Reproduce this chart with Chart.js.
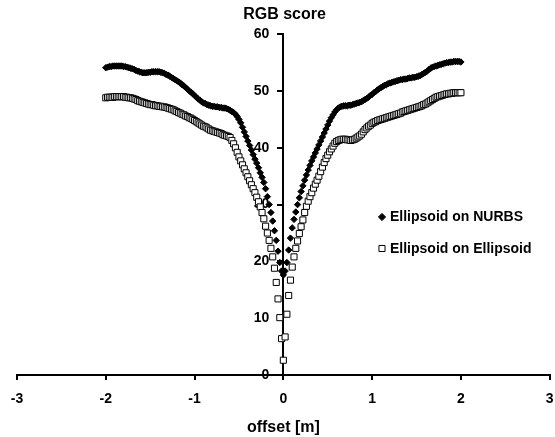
<!DOCTYPE html>
<html>
<head>
<meta charset="utf-8">
<script src="https://cdn.jsdelivr.net/npm/chart.js@4/dist/chart.umd.min.js"></script>
<style>
  html, body { margin: 0; padding: 0; background: #ffffff; }
  #wrap { position: relative; width: 555px; height: 437px; }
</style>
</head>
<body>
<div id="wrap"><canvas id="c" width="555" height="437"></canvas></div>
<script>
// offset [m] sample positions
const offsets = [
  -2.00,-1.98,-1.96,-1.94,-1.92,-1.90,-1.88,-1.86,-1.84,-1.82,
  -1.80,-1.78,-1.76,-1.74,-1.72,-1.70,-1.68,-1.66,-1.64,-1.62,
  -1.60,-1.58,-1.56,-1.54,-1.52,-1.50,-1.48,-1.46,-1.44,-1.42,
  -1.40,-1.38,-1.36,-1.34,-1.32,-1.30,-1.28,-1.26,-1.24,-1.22,
  -1.20,-1.18,-1.16,-1.14,-1.12,-1.10,-1.08,-1.06,-1.04,-1.02,
  -1.00,-0.98,-0.96,-0.94,-0.92,-0.90,-0.88,-0.86,-0.84,-0.82,
  -0.80,-0.78,-0.76,-0.74,-0.72,-0.70,-0.68,-0.66,-0.64,-0.62,
  -0.60,-0.58,-0.56,-0.54,-0.52,-0.50,-0.48,-0.46,-0.44,-0.42,
  -0.40,-0.38,-0.36,-0.34,-0.32,-0.30,-0.28,-0.26,-0.24,-0.22,
  -0.20,-0.18,-0.16,-0.14,-0.12,-0.10,-0.08,-0.06,-0.04,-0.02,
  0.00,
  0.02,0.04,0.06,0.08,0.10,0.12,0.14,0.16,0.18,0.20,
  0.22,0.24,0.26,0.28,0.30,0.32,0.34,0.36,0.38,0.40,
  0.42,0.44,0.46,0.48,0.50,0.52,0.54,0.56,0.58,0.60,
  0.62,0.64,0.66,0.68,0.70,0.72,0.74,0.76,0.78,0.80,
  0.82,0.84,0.86,0.88,0.90,0.92,0.94,0.96,0.98,1.00,
  1.02,1.04,1.06,1.08,1.10,1.12,1.14,1.16,1.18,1.20,
  1.22,1.24,1.26,1.28,1.30,1.32,1.34,1.36,1.38,1.40,
  1.42,1.44,1.46,1.48,1.50,1.52,1.54,1.56,1.58,1.60,
  1.62,1.64,1.66,1.68,1.70,1.72,1.74,1.76,1.78,1.80,
  1.82,1.84,1.86,1.88,1.90,1.92,1.94,1.96,1.98,2.00
];

// RGB score, Ellipsoid on NURBS
const nurbsScores = [
  54.1,54.2,54.3,54.3,54.4,54.4,54.4,54.4,54.4,54.4,
  54.3,54.3,54.2,54.1,54.0,53.9,53.8,53.6,53.5,53.4,
  53.3,53.2,53.2,53.2,53.3,53.3,53.4,53.4,53.4,53.4,
  53.4,53.3,53.2,53.1,52.9,52.8,52.6,52.4,52.2,52.0,
  51.8,51.6,51.4,51.1,50.9,50.6,50.3,50.0,49.8,49.5,
  49.2,48.9,48.6,48.4,48.1,47.9,47.8,47.6,47.5,47.4,
  47.3,47.3,47.2,47.2,47.1,47.1,47.0,47.0,46.9,46.8,
  46.6,46.4,46.2,45.9,45.5,45.0,44.4,43.6,42.8,42.0,
  41.2,40.4,39.6,38.8,38.0,37.3,36.5,35.6,34.8,33.9,
  32.8,31.4,30.0,28.6,27.1,25.4,23.7,21.8,19.8,18.3,
  17.6,
  18.3,19.8,22.0,24.1,25.9,27.4,28.7,30.0,31.2,32.3,
  33.3,34.3,35.2,36.1,36.9,37.7,38.4,39.1,39.8,40.5,
  41.2,41.9,42.6,43.3,44.0,44.7,45.3,45.8,46.3,46.7,
  47.0,47.2,47.3,47.4,47.4,47.4,47.5,47.5,47.6,47.7,
  47.8,47.9,48.0,48.1,48.3,48.5,48.7,48.9,49.2,49.4,
  49.7,49.9,50.2,50.4,50.6,50.8,51.0,51.1,51.3,51.4,
  51.5,51.6,51.7,51.8,51.9,52.0,52.0,52.1,52.1,52.2,
  52.3,52.3,52.4,52.4,52.5,52.6,52.7,52.9,53.1,53.3,
  53.5,53.8,54.0,54.2,54.3,54.4,54.5,54.6,54.7,54.8,
  54.9,55.0,55.0,55.1,55.1,55.2,55.2,55.2,55.2,55.1
];

// RGB score, Ellipsoid on Ellipsoid
const ellipsoidScores = [
  48.8,48.9,48.9,48.9,48.9,49.0,49.0,49.0,49.0,49.0,
  49.0,48.9,48.9,48.8,48.8,48.7,48.6,48.5,48.3,48.2,
  48.1,48.0,47.9,47.8,47.7,47.6,47.6,47.5,47.4,47.4,
  47.3,47.3,47.2,47.2,47.1,47.0,46.9,46.8,46.7,46.5,
  46.4,46.2,46.1,45.9,45.8,45.6,45.5,45.3,45.2,45.0,
  44.8,44.6,44.4,44.2,44.0,43.8,43.7,43.5,43.3,43.1,
  43.0,42.9,42.8,42.7,42.6,42.5,42.3,42.2,42.1,42.0,
  41.8,41.3,40.7,40.0,39.2,38.4,37.7,37.0,36.3,35.6,
  34.9,34.2,33.5,32.8,32.1,31.3,30.5,29.6,28.6,27.5,
  26.2,25.0,23.7,22.3,20.8,18.8,16.3,13.4,10.1,6.4,
  2.6,
  6.7,10.7,14.0,16.7,19.0,20.8,22.3,23.6,24.9,26.1,
  27.3,28.6,29.7,30.6,31.4,32.1,32.9,33.6,34.3,35.0,
  35.8,36.6,37.4,38.1,38.7,39.3,39.8,40.3,40.8,41.1,
  41.3,41.4,41.5,41.5,41.5,41.4,41.4,41.3,41.4,41.5,
  41.7,41.9,42.1,42.4,42.8,43.2,43.5,43.8,44.0,44.3,
  44.5,44.6,44.8,44.9,45.0,45.1,45.2,45.3,45.4,45.5,
  45.6,45.7,45.8,45.9,46.0,46.1,46.3,46.4,46.5,46.6,
  46.7,46.8,46.9,47.0,47.1,47.2,47.3,47.4,47.6,47.7,
  47.9,48.1,48.3,48.5,48.7,48.9,49.0,49.1,49.2,49.3,
  49.4,49.5,49.5,49.6,49.6,49.7,49.7,49.7,49.7,49.7
];

const seriesNames = ['Ellipsoid on NURBS', 'Ellipsoid on Ellipsoid'];
const xTicks = [-3, -2, -1, 0, 1, 2, 3];
const yTicks = [0, 10, 20, 30, 40, 50, 60];

const FONT = "'Liberation Sans', Arial, Helvetica, sans-serif";

const toPoints = (ys) => offsets.map((x, i) => ({ x: x, y: ys[i] }));

const legendPlugin = {
  id: 'customLegend',
  afterDraw(chart, args, opts) {
    const ctx = chart.ctx;
    ctx.save();
    chart.data.datasets.forEach((ds, i) => {
      const mx = opts.x, my = opts.y + i * opts.gap;
      ctx.fillStyle = ds.backgroundColor;
      ctx.strokeStyle = ds.borderColor;
      ctx.lineWidth = ds.borderWidth;
      ctx.beginPath();
      if (ds.pointStyle === 'rectRot') {
        const r = opts.markerRadius[i];
        ctx.moveTo(mx, my - r); ctx.lineTo(mx + r, my); ctx.lineTo(mx, my + r); ctx.lineTo(mx - r, my); ctx.closePath();
      } else {
        const s = opts.markerRadius[i] * Math.SQRT1_2;
        ctx.rect(mx - s, my - s, 2 * s, 2 * s);
      }
      ctx.fill(); ctx.stroke();
      ctx.fillStyle = '#000';
      ctx.font = opts.font;
      ctx.textAlign = 'left';
      ctx.textBaseline = 'middle';
      ctx.fillText(ds.label, mx + opts.textGap, my + 0.5);
    });
    ctx.restore();
  }
};

new Chart(document.getElementById('c'), {
  type: 'scatter',
  data: {
    datasets: [
      {
        label: seriesNames[0],
        data: toPoints(nurbsScores),
        pointStyle: 'rectRot',
        pointRadius: 3.2,
        backgroundColor: '#000000',
        borderColor: '#000000',
        borderWidth: 1
      },
      {
        label: seriesNames[1],
        data: toPoints(ellipsoidScores),
        pointStyle: 'rect',
        pointRadius: 4.3,
        backgroundColor: '#ffffff',
        borderColor: '#000000',
        borderWidth: 1
      }
    ]
  },
  options: {
    responsive: false,
    animation: false,
    events: [],
    layout: { padding: { left: 17, right: 3, top: 0, bottom: 0 } },
    plugins: {
      legend: { display: false },
      tooltip: { enabled: false },
      title: {
        display: true,
        text: 'RGB score',
        color: '#000',
        font: { family: FONT, size: 16, weight: 'bold' },
        padding: { top: 5, bottom: 10 }
      },
      customLegend: {
        x: 382, y: 217, gap: 31.5, textGap: 8,
        markerRadius: [3.6, 4.3],
        font: "bold 14px " + FONT
      }
    },
    scales: {
      x: {
        type: 'linear',
        min: -3, max: 3,
        afterBuildTicks: (s) => { s.ticks = xTicks.map(v => ({ value: v })); },
        afterFit: (s) => { s.paddingLeft = 0; s.paddingRight = 0; },
        border: { display: true, color: '#000', width: 2 },
        grid: { drawOnChartArea: false, drawTicks: true, tickLength: 5, color: '#000', lineWidth: 2 },
        ticks: { color: '#000', font: { family: FONT, size: 14, weight: 'bold' }, padding: 11, maxRotation: 0 },
        title: {
          display: true, text: 'offset [m]', color: '#000',
          font: { family: FONT, size: 16, weight: 'bold' },
          padding: { top: -1, bottom: 0 }
        }
      },
      y: {
        type: 'linear',
        position: { x: 0 },
        min: 0, max: 60,
        afterBuildTicks: (s) => { s.ticks = yTicks.map(v => ({ value: v })); },
        afterFit: (s) => { s.width = 0; },
        border: { display: true, color: '#000', width: 2 },
        grid: { drawOnChartArea: false, drawTicks: true, tickLength: 5, color: '#000', lineWidth: 2 },
        ticks: {
          color: '#000', font: { family: FONT, size: 14, weight: 'bold' }, padding: 8,
          callback: (v) => v + '\u2002\u2002'
        }
      }
    }
  },
  plugins: [legendPlugin]
});
</script>
</body>
</html>
